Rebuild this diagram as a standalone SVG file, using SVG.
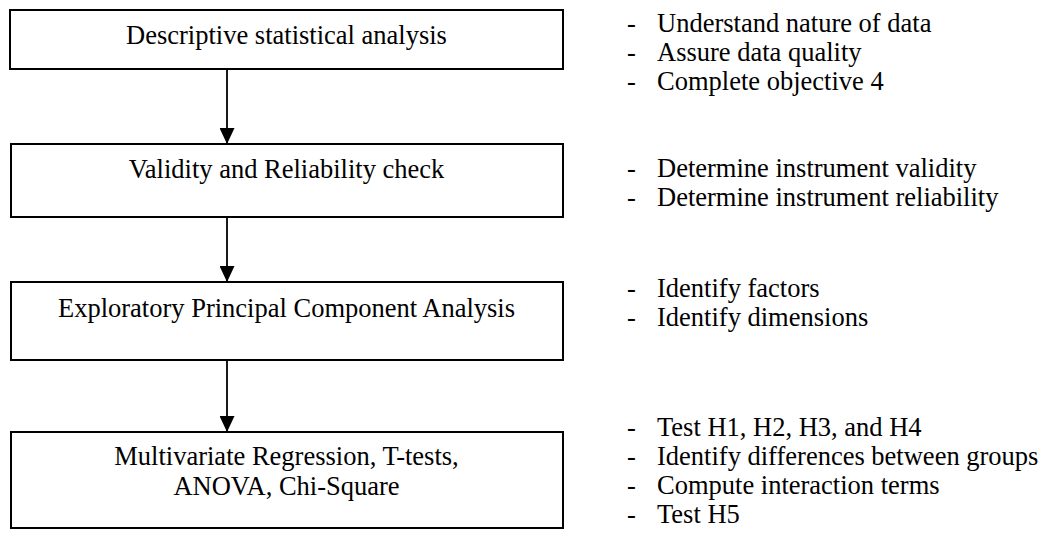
<svg xmlns="http://www.w3.org/2000/svg" width="1047" height="537" viewBox="0 0 1047 537">
<style>
.box{fill:#fff;stroke:#000;stroke-width:2}
.t{font-family:"Liberation Serif","Times New Roman",serif;font-size:26.5px;fill:#000}
.c{text-anchor:middle}
.conn{stroke:#000;stroke-width:1.8;fill:none}
</style>
<defs>
<marker id="ah" markerWidth="16" markerHeight="15" refX="16" refY="7.5" orient="auto" markerUnits="userSpaceOnUse">
<path d="M0,0 L16,7.5 L0,15 Z" fill="#000"/>
</marker>
</defs>
<rect width="1047" height="537" fill="#fff"/>
<g id="connectors">
<line class="conn" x1="227" y1="69" x2="227" y2="144" marker-end="url(#ah)"/>
<line class="conn" x1="227" y1="217" x2="227" y2="282" marker-end="url(#ah)"/>
<line class="conn" x1="227" y1="360" x2="227" y2="432" marker-end="url(#ah)"/>
</g>
<g id="n1">
<rect class="box" x="10" y="10" width="553" height="59"/>
<text class="t c" x="286.5" y="44">Descriptive statistical analysis</text>
</g>
<g id="n2">
<rect class="box" x="11" y="144" width="552" height="73"/>
<text class="t c" x="286.5" y="178">Validity and Reliability check</text>
</g>
<g id="n3">
<rect class="box" x="11" y="282" width="552" height="78"/>
<text class="t c" x="286.5" y="317">Exploratory Principal Component Analysis</text>
</g>
<g id="n4">
<rect class="box" x="11" y="432" width="552" height="96"/>
<text class="t c" x="286.5" y="465">Multivariate Regression, T-tests,</text>
<text class="t c" x="286.5" y="495">ANOVA, Chi-Square</text>
</g>
<g id="notes1">
<text class="t" x="627" y="32">-</text><text class="t" x="657" y="32">Understand nature of data</text>
<text class="t" x="627" y="61">-</text><text class="t" x="657" y="61">Assure data quality</text>
<text class="t" x="627" y="90">-</text><text class="t" x="657" y="90">Complete objective 4</text>
</g>
<g id="notes2">
<text class="t" x="627" y="177">-</text><text class="t" x="657" y="177">Determine instrument validity</text>
<text class="t" x="627" y="206">-</text><text class="t" x="657" y="206">Determine instrument reliability</text>
</g>
<g id="notes3">
<text class="t" x="627" y="297">-</text><text class="t" x="657" y="297">Identify factors</text>
<text class="t" x="627" y="326">-</text><text class="t" x="657" y="326">Identify dimensions</text>
</g>
<g id="notes4">
<text class="t" x="627" y="436">-</text><text class="t" x="657" y="436">Test H1, H2, H3, and H4</text>
<text class="t" x="627" y="465">-</text><text class="t" x="657" y="465">Identify differences between groups</text>
<text class="t" x="627" y="494">-</text><text class="t" x="657" y="494">Compute interaction terms</text>
<text class="t" x="627" y="523">-</text><text class="t" x="657" y="523">Test H5</text>
</g>
</svg>
